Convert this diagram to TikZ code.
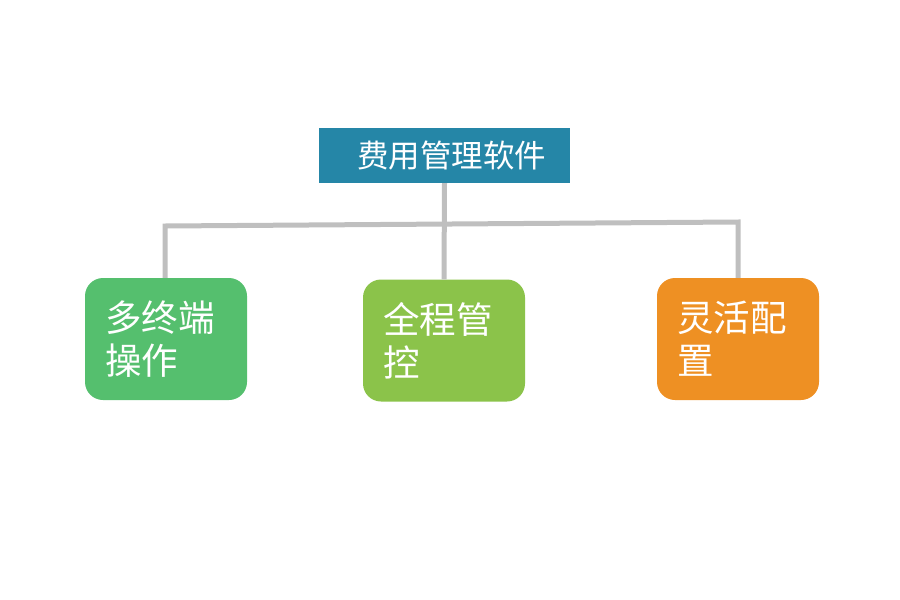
\documentclass[tikz,border=0pt]{standalone}
\usepackage{fontspec}
\newfontfamily\cjk{Noto Sans CJK SC}
\definecolor{topblue}{HTML}{2586A7}
\definecolor{bgreen}{HTML}{55BF6E}
\definecolor{blime}{HTML}{8BC34A}
\definecolor{borange}{HTML}{EE9023}
\definecolor{lgray}{HTML}{BFBFBF}
\begin{document}
\begin{tikzpicture}[x=1pt,y=-1pt,
  topbox/.style={fill=topblue,text=white,minimum width=251pt,minimum height=55pt,inner sep=0pt,font=\cjk\fontsize{31.5}{36}\selectfont},
  leaf/.style={rounded corners=18pt,text=white,minimum height=122pt,text width=122pt,inner xsep=20pt,inner ysep=0pt,align=left,font=\cjk\fontsize{36.5}{43}\selectfont},
  conn/.style={draw=lgray,line width=5pt}]
\useasboundingbox (0,0) rectangle (900,600);
\node[topbox] (top) at (444.5,155.5) {\hspace*{14pt}费用管理软件};
\node[leaf,fill=bgreen] (left) at (166,339) {\raisebox{-3pt}{多终端}\\\raisebox{-3pt}{操作}};
\node[leaf,fill=blime] (mid) at (444,340.5) {\raisebox{-3pt}{全程管}\\\raisebox{-3pt}{控}};
\node[leaf,fill=borange] (right) at (738,339) {\raisebox{-3pt}{灵活配}\\\raisebox{-3pt}{置}};
\coordinate (hl) at (165,226);
\coordinate (hr) at (738,222);
\draw[conn] (top.south) -- (mid.north);
\draw[conn] (left.north -| hl) -- (hl) -- (hr) -- (right.north);
\end{tikzpicture}
\end{document}
